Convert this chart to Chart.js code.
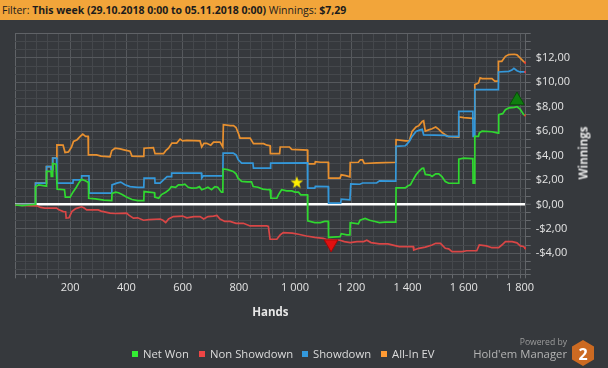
<!DOCTYPE html>
<html><head><meta charset="utf-8">
<script src="https://cdn.jsdelivr.net/npm/chart.js@4/dist/chart.umd.min.js"></script>
<style>
html,body{margin:0;padding:0;background:#36393d;width:608px;height:368px;overflow:hidden;font-family:"Open Sans",sans-serif;}
#c{position:absolute;left:0;top:0;}
#hdr{position:absolute;left:0;top:0;width:608px;height:20px;background:#f2a53a;color:#1c1c1c;font-size:10.5px;line-height:20px;padding-left:2px;box-sizing:border-box;white-space:nowrap;}
#hdr b{font-weight:700;}
#ytitle{position:absolute;left:583px;top:153px;transform:translate(-50%,-50%) rotate(-90deg);font-weight:700;font-size:11.5px;color:#e6e6e6;white-space:nowrap;}
.li{position:absolute;top:346px;font-size:11.3px;line-height:16px;color:#dcdcdc;white-space:nowrap;}
.li i{display:inline-block;width:6px;height:6px;margin-right:5px;vertical-align:1px;}
#pw{position:absolute;right:41px;top:336px;font-size:8.6px;color:#9c9c9c;white-space:nowrap;}
#hm{position:absolute;right:41px;top:346px;font-size:11.3px;color:#b4b4b4;white-space:nowrap;}
#logo{position:absolute;left:571px;top:339px;}
</style></head>
<body>
<canvas id="c" width="608" height="368"></canvas>
<div id="hdr">Filter: <b>This week (29.10.2018 0:00 to 05.11.2018 0:00)</b> Winnings: <b>$7,29</b></div>
<div id="ytitle">Winnings</div>
<div class="li" style="left:132px"><i style="background:#33ee33"></i>Net Won</div>
<div class="li" style="left:199px"><i style="background:#ee4545"></i>Non Showdown</div>
<div class="li" style="left:302px"><i style="background:#3399dd"></i>Showdown</div>
<div class="li" style="left:381px"><i style="background:#ff9a33"></i>All-In EV</div>
<div id="pw">Powered by</div>
<div id="hm">Hold'em Manager</div>
<svg id="logo" width="24" height="28" viewBox="0 0 24 28"><polygon points="12,1 23,7.5 23,20.5 12,27 1,20.5 1,7.5" fill="#cc6a22"/><text x="12" y="20.5" text-anchor="middle" font-family="Open Sans" font-weight="700" font-size="16" fill="#ffffff">2</text></svg>
<script>
// ---- data (hands, winnings $) ----
const netWonHands = [5,30,50,76,77,88,115,116,132,133,137,138,150,153,154,180,183,200,210,222,232,240,252,265,266,290,320,348,349,362,372,385,400,420,440,462,463,480,500,501,515,525,540,552,560,575,585,600,608,620,632,650,660,668,680,690,703,715,725,738,743,744,760,780,790,797,810,830,845,851,868,885,904,911,914,935,941,952,970,988,1000,1012,1020,1044,1045,1070,1090,1105,1118,1119,1160,1164,1184,1195,1196,1225,1231,1249,1265,1284,1300,1320,1340,1358,1359,1392,1400,1410,1416,1430,1440,1452,1457,1463,1480,1487,1500,1511,1522,1534,1546,1581,1582,1600,1629,1632,1633,1638,1639,1652,1655,1665,1700,1722,1724,1738,1748,1760,1780,1789,1800,1813,1819];
const netWonValues = [-0.05,-0.1,-0.05,0,1.45,1.6,1.5,2.7,2.7,2.3,2.3,3.35,3.3,3.3,1.25,1.2,0.6,0.6,1.0,1.4,1.8,2.05,1.95,1.8,0.5,0.45,0.35,0.3,0.9,1.0,0.95,0.8,0.6,0.4,0.3,0.3,1.05,1.0,0.95,0.6,0.5,0.8,1.0,1.2,1.45,1.4,1.6,1.6,1.65,1.4,1.33,1.35,1.45,1.2,1.3,1.4,1.2,1.45,1.4,1.0,1.0,2.9,2.85,2.7,2.5,2.15,1.88,1.85,1.85,1.46,1.4,1.25,1.2,1.2,0.5,0.5,0.8,1.2,1.1,1.1,1.0,1.0,0.78,0.78,-1.35,-1.5,-1.5,-1.4,-1.4,-2.7,-2.65,-2.4,-2.5,-2.5,-1.5,-1.6,-1.3,-1.15,-1.3,-1.4,-1.5,-1.45,-1.45,-1.45,1.35,1.35,1.5,1.6,1.87,2.42,2.7,2.95,2.97,2.45,2.4,2.28,2.5,2.5,2.28,1.87,1.73,1.73,3.71,3.79,3.75,3.75,1.74,1.74,5.57,5.57,5.84,6.0,5.95,5.84,7.35,7.43,7.76,7.9,7.95,8.0,7.8,7.35,7.29];

const nonShowdownHands = [5,50,82,95,110,152,160,176,184,186,196,200,206,220,241,250,259,300,310,342,360,401,410,425,440,461,480,520,530,540,550,567,600,615,640,662,675,690,710,722,733,750,769,790,816,840,899,905,911,935,947,958,990,1012,1040,1070,1100,1110,1160,1175,1196,1220,1244,1255,1270,1300,1330,1370,1420,1422,1440,1463,1487,1500,1517,1534,1546,1558,1594,1610,1646,1655,1680,1700,1724,1735,1748,1772,1789,1801,1812,1819];
const nonShowdownValues = [-0.05,-0.1,-0.12,-0.25,-0.31,-0.31,-0.45,-0.59,-0.6,-1.13,-1.1,-0.9,-0.59,-0.35,-0.2,-0.3,-0.45,-0.45,-0.55,-0.72,-0.75,-0.72,-0.9,-1.13,-1.1,-1.3,-1.25,-1.2,-1.3,-1.49,-1.2,-1.0,-0.96,-1.1,-1.0,-1.0,-1.2,-1.0,-0.96,-0.9,-1.2,-1.4,-1.4,-1.55,-1.55,-1.77,-1.77,-1.8,-2.86,-2.86,-2.5,-2.31,-2.35,-2.45,-2.59,-2.7,-2.78,-2.86,-2.94,-3.05,-3.13,-3.05,-3.05,-2.94,-3.13,-3.24,-3.24,-3.46,-3.46,-3.74,-3.6,-3.5,-3.33,-3.19,-3.19,-3.6,-3.65,-3.87,-3.87,-3.8,-3.8,-3.33,-3.4,-3.55,-3.55,-3.33,-3.05,-3.05,-3.15,-3.4,-3.45,-3.6];

const showdownHands = [5,76,77,115,116,132,133,137,138,152,153,210,211,240,241,267,268,348,349,366,380,395,413,440,462,463,501,502,520,532,545,560,561,667,668,674,743,744,780,790,798,810,850,852,912,913,1044,1045,1070,1072,1118,1119,1162,1164,1195,1198,1230,1240,1290,1300,1358,1359,1392,1400,1406,1416,1430,1445,1452,1457,1534,1540,1581,1582,1632,1633,1638,1639,1722,1723,1760,1771,1778,1789,1800,1819];
const showdownValues = [0,0,1.74,1.74,3.1,3.1,2.85,2.85,3.79,3.79,1.74,1.74,2.0,2.0,2.34,2.34,0.92,0.92,1.6,1.74,1.82,1.6,1.45,1.4,1.4,2.15,2.15,1.74,1.74,2.0,2.28,2.28,2.56,2.56,2.15,2.34,2.34,4.2,4.2,4.05,3.65,3.38,3.38,2.97,2.97,3.38,3.4,1.33,1.33,1.48,1.46,0.1,0.1,0.43,0.37,1.68,1.65,1.75,1.75,1.93,1.9,4.75,4.8,5.0,5.16,5.57,5.98,6.1,6.15,5.7,5.65,5.57,5.57,7.62,7.62,5.57,5.57,9.4,9.4,10.85,10.9,11.0,11.15,10.95,10.85,10.85];

const allInEvHands = [5,76,77,115,116,132,133,137,138,152,153,175,182,194,205,212,225,236,245,255,264,265,294,310,342,348,360,378,395,413,420,445,462,463,496,502,532,540,550,562,579,591,600,615,662,668,676,686,700,710,733,743,745,770,781,790,798,804,840,852,888,900,911,912,945,947,980,988,1044,1045,1070,1072,1090,1118,1119,1160,1164,1180,1195,1196,1225,1232,1240,1246,1290,1358,1359,1392,1406,1416,1430,1440,1452,1457,1463,1475,1487,1500,1511,1522,1534,1546,1581,1582,1600,1632,1638,1639,1652,1658,1665,1700,1710,1722,1723,1735,1748,1760,1780,1789,1800,1813,1819];
const allInEvValues = [0,0,1.74,1.74,3.1,3.1,2.85,2.85,3.79,3.79,4.88,4.85,4.25,4.3,4.7,5.16,5.3,5.57,5.76,5.57,5.57,4.06,4.06,3.95,3.9,4.4,4.6,4.55,4.45,4.35,3.95,3.93,3.93,4.6,4.65,4.15,4.15,4.4,4.6,5.02,5.02,5.35,5.2,5.25,5.2,4.7,5.0,5.0,4.85,5.1,5.1,4.7,6.53,6.45,6.45,6.3,5.84,5.43,5.43,4.97,4.97,4.85,4.8,4.15,4.15,4.7,4.7,4.5,4.45,3.32,3.32,3.5,3.45,3.45,2.15,2.15,2.42,2.35,2.25,3.43,3.45,3.65,3.65,3.35,3.4,3.45,5.3,5.2,5.2,5.98,6.34,6.45,6.8,6.85,6.0,6.1,6.2,6.34,6.15,5.9,5.7,5.55,5.5,7.16,7.1,7.05,7.0,9.81,9.95,10.36,10.3,10.3,10.1,10.1,11.72,11.72,12.13,12.27,12.3,12.25,12.0,11.7,11.6];

const markerHands = [1006, 1128, 1789];
const markerValues = [1.8, -3.24, 8.51];

const xMin = 4, xMax = 1820, yMin = -5.73, yMax = 14;
const xTickValues = [xMin];
for (let h = 40; h <= 1800; h += 40) xTickValues.push(h);
xTickValues.push(xMax);
const yTickValues = [yMin];
for (let k = -8; k <= 21; k++) yTickValues.push(k * 2 / 3);

// ---- helpers ----
const pts = (h, v) => h.map((x, i) => ({x, y: v[i]}));
function starImage() {
  const c = document.createElement('canvas'); c.width = 14; c.height = 14;
  const g = c.getContext('2d'); g.fillStyle = '#ffee00'; g.beginPath();
  for (let i = 0; i < 10; i++) { const r = i % 2 ? 2.7 : 6.6; const a = -Math.PI / 2 + i * Math.PI / 5; g.lineTo(7 + r * Math.cos(a), 7.4 + r * Math.sin(a)); }
  g.closePath(); g.fill(); return c;
}
const lastDot = (c) => c.dataIndex === c.dataset.data.length - 1 ? 1.2 : 0;
function line(label, h, v, color) {
  return {label, data: pts(h, v), borderColor: color, borderWidth: 1.7, pointRadius: lastDot,
    pointBackgroundColor: '#ff3030', pointBorderWidth: 0, tension: 0, fill: false};
}
const isZero = v => Math.abs(v) < 1e-9;
const yk = v => Math.round(v * 3);
const yMinor = v => Math.abs(v * 3 - yk(v)) > 1e-6;

new Chart(document.getElementById('c'), {
  type: 'line',
  data: {datasets: [
    {label: 'markers', data: pts(markerHands, markerValues), showLine: false,
     pointStyle: [starImage(), 'triangle', 'triangle'], rotation: [0, 180, 0],
     pointRadius: [6, 8, 8.5], pointBackgroundColor: ['#ffee00', '#e01010', '#0f7d0f'],
     pointBorderColor: ['#ffee00', '#a00808', '#085008'], pointBorderWidth: 1},
    line('Net Won', netWonHands, netWonValues, '#30d830'),
    line('Non Showdown', nonShowdownHands, nonShowdownValues, '#d94646'),
    line('Showdown', showdownHands, showdownValues, '#3498da'),
    line('All-In EV', allInEvHands, allInEvValues, '#e8902f')
  ]},
  options: {
    responsive: false, animation: false, events: [], devicePixelRatio: 1,
    layout: {padding: {left: 15, top: 33.5, right: 0, bottom: 48}},
    plugins: {legend: {display: false}, tooltip: {enabled: false}},
    scales: {
      x: {type: 'linear', position: 'bottom', min: xMin, max: xMax,
        afterBuildTicks: s => { s.ticks = xTickValues.map(v => ({value: v})); },
        afterFit: s => { s.height = 368 - 48 - 274.3; },
        grid: {color: c => { const v = c.tick.value; if (v === xMin || v === xMax) return '#606367'; return v % 200 === 0 ? '#56595d' : '#45484c'; },
          lineWidth: 1, tickLength: 4, tickColor: '#66696d', tickWidth: 1},
        border: {color: '#606367'},
        ticks: {autoSkip: false, maxRotation: 0, minRotation: 0, padding: 3, color: '#e4e4e4',
          font: {family: 'Open Sans', size: 11},
          callback: v => { if (v % 200 !== 0 || v <= 0) return ''; return v >= 1000 ? Math.floor(v / 1000) + ' ' + String(v % 1000).padStart(3, '0') : String(v); }},
        title: {display: true, text: 'Hands', color: '#e6e6e6', font: {family: 'Open Sans', size: 11.5, weight: 'bold'}, padding: {top: 0, bottom: 0}}
      },
      y: {type: 'linear', position: 'right', min: yMin, max: yMax,
        afterBuildTicks: s => { s.ticks = yTickValues.map(v => ({value: v})); },
        afterFit: s => { s.width = 82.3; },
        grid: {color: c => { const v = c.tick.value; if (isZero(v)) return '#ffffff'; if (yMinor(v) || v >= yMax - 1e-6) return '#606367'; return yk(v) % 6 === 0 ? '#56595d' : '#45484c'; },
          lineWidth: c => isZero(c.tick.value) ? 2.5 : 1, tickLength: 5, tickColor: '#66696d', tickWidth: 1},
        border: {color: '#606367'},
        ticks: {autoSkip: false, padding: 5, color: '#e4e4e4', font: {family: 'Open Sans', size: 11},
          callback: v => { if (yMinor(v) || yk(v) % 6 !== 0 || v >= yMax - 1e-6) return ''; const n = yk(v) / 3; return (n < 0 ? '-' : '') + '$' + Math.abs(n).toFixed(2).replace('.', ','); }},
        title: {display: false}
      }
    }
  }
});
</script>
</body></html>
